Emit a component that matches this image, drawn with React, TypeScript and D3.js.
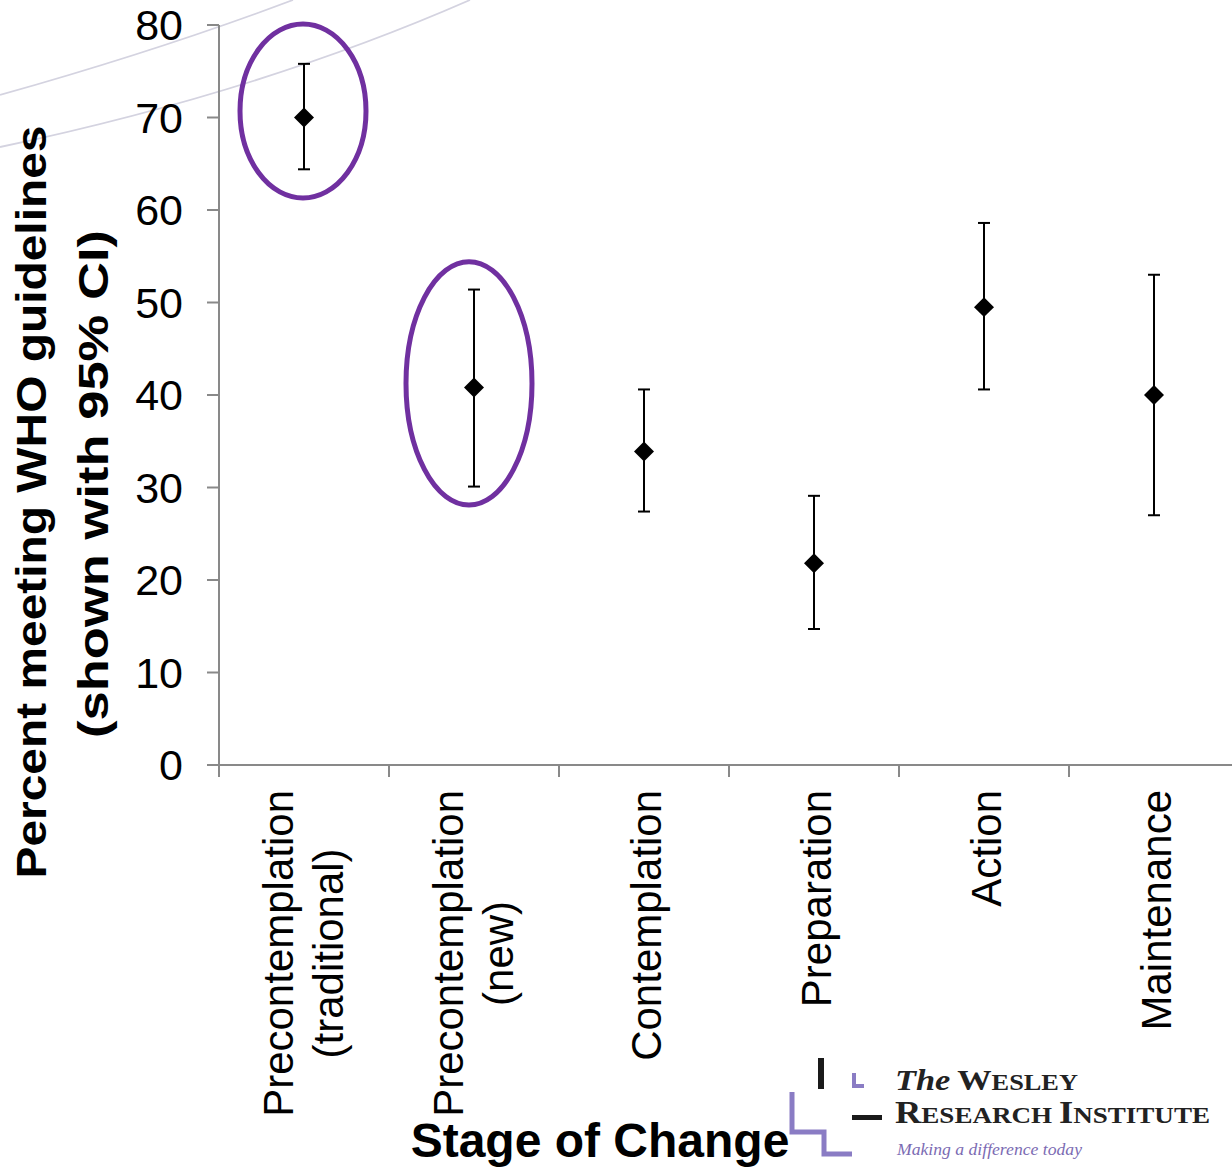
import React from "react";
import * as d3 from "d3";

// stages of change and the percent meeting WHO guidelines, with 95% CI
const stages = [
  ["Precontemplation", "(traditional)"],
  ["Precontemplation", "(new)"],
  ["Contemplation"],
  ["Preparation"],
  ["Action"],
  ["Maintenance"],
];
const means = [70.0, 40.8, 33.9, 21.8, 49.5, 40.0];
const lower = [64.4, 30.1, 27.4, 14.7, 40.6, 27.0];
const upper = [75.8, 51.4, 40.6, 29.1, 58.6, 53.0];
const yTicks = [0, 10, 20, 30, 40, 50, 60, 70, 80];

// purple rings drawn round the two precontemplation groups (y range in percent)
const ringStage = [0, 1];
const ringTop = [80.1, 54.4];
const ringBottom = [61.3, 28.1];

const W = 1232;
const H = 1170;
const font = "'Liberation Sans', Arial, sans-serif";
const serif = "'Liberation Serif', 'DejaVu Serif', serif";

// width of a label line, so that two-line labels can be centred on each other
function textWidth(s: string, size: number) {
  const ctx = document.createElement("canvas").getContext("2d");
  if (!ctx) return s.length * size * 0.5;
  ctx.font = `${size}px 'Liberation Sans', Arial, sans-serif`;
  return ctx.measureText(s).width;
}

export default function App() {
  const x = d3
    .scaleBand<number>()
    .domain(d3.range(stages.length + 1))
    .range([219, 219 + 170 * (stages.length + 1)])
    .paddingInner(0)
    .paddingOuter(0);
  const y = d3.scaleLinear().domain([0, 80]).range([765, 25]);
  const bw = x.bandwidth();
  const cx = (i: number) => (x(i) as number) + bw / 2;
  const diamond = d3.symbol().type(d3.symbolSquare).size(200)();
  const axisColor = "#898989";
  const labelTop = 790;

  return (
    <svg
      width={W}
      height={H}
      style={{ position: "absolute", left: 0, top: 0, display: "block", background: "#fff" }}
    >
      {/* faint slide background swooshes */}
      <path d="M0,95 Q160,50 293,0" fill="none" stroke="#d4d3e0" strokeWidth={1.8} />
      <path d="M0,147 Q260,92 470,0" fill="none" stroke="#d4d3e0" strokeWidth={1.8} />

      {/* y axis */}
      <line x1={219} x2={219} y1={y(80)} y2={y(0)} stroke={axisColor} strokeWidth={2} />
      {yTicks.map((t) => (
        <g key={t}>
          <line x1={207} x2={219} y1={y(t)} y2={y(t)} stroke={axisColor} strokeWidth={2} />
          <text x={183} y={y(t) + 15} textAnchor="end" fontFamily={font} fontSize={43} fill="#000">
            {t}
          </text>
        </g>
      ))}

      {/* x axis */}
      <line x1={207} x2={W} y1={y(0)} y2={y(0)} stroke={axisColor} strokeWidth={2} />
      {d3.range(stages.length + 1).map((i) => (
        <line
          key={i}
          x1={x(i) as number}
          x2={x(i) as number}
          y1={y(0)}
          y2={y(0) + 12}
          stroke={axisColor}
          strokeWidth={2}
        />
      ))}

      {/* category labels */}
      {stages.map((lines, i) => {
        const widest = d3.max(lines, (s) => textWidth(s, 42)) as number;
        return lines.map((s, j) => {
          const bx = lines.length === 1 ? cx(i) + 17 : cx(i) - 11 + j * 50;
          const single = lines.length === 1;
          const py = single ? labelTop : labelTop + widest / 2;
          return (
            <text
              key={i + "-" + j}
              transform={`translate(${bx},${py}) rotate(-90)`}
              textAnchor={single ? "end" : "middle"}
              fontFamily={font}
              fontSize={42}
              fill="#000"
            >
              {s}
            </text>
          );
        });
      })}

      {/* rings */}
      {ringStage.map((s, k) => (
        <ellipse
          key={k}
          cx={cx(s) - (k === 0 ? 1 : 5)}
          cy={(y(ringTop[k]) + y(ringBottom[k])) / 2}
          rx={63}
          ry={(y(ringBottom[k]) - y(ringTop[k])) / 2}
          fill="none"
          stroke="#7030a0"
          strokeWidth={5}
        />
      ))}

      {/* error bars and points */}
      {means.map((m, i) => (
        <g key={i}>
          <line x1={cx(i)} x2={cx(i)} y1={y(upper[i])} y2={y(lower[i])} stroke="#000" strokeWidth={2} />
          <line x1={cx(i) - 6} x2={cx(i) + 6} y1={y(upper[i])} y2={y(upper[i])} stroke="#000" strokeWidth={2} />
          <line x1={cx(i) - 6} x2={cx(i) + 6} y1={y(lower[i])} y2={y(lower[i])} stroke="#000" strokeWidth={2} />
          <path d={diamond as string} transform={`translate(${cx(i)},${y(m)}) rotate(45)`} fill="#000" />
        </g>
      ))}

      {/* axis titles */}
      <text
        transform="translate(46,502) rotate(-90)"
        textAnchor="middle"
        fontFamily={font}
        fontWeight="bold"
        fontSize={42}
        textLength={753}
        lengthAdjust="spacingAndGlyphs"
      >
        Percent meeting WHO guidelines
      </text>
      <text
        transform="translate(108,484) rotate(-90)"
        textAnchor="middle"
        fontFamily={font}
        fontWeight="bold"
        fontSize={42}
        textLength={508}
        lengthAdjust="spacingAndGlyphs"
      >
        (shown with 95% CI)
      </text>
      <text x={600} y={1157} textAnchor="middle" fontFamily={font} fontWeight="bold" fontSize={48}>
        Stage of Change
      </text>

      {/* logo */}
      <g>
        <rect x={818} y={1058} width={6} height={31} fill="#1a1a1a" />
        <path d="M854,1073 V1086 H864" fill="none" stroke="#8a7cc4" strokeWidth={4} />
        <rect x={852} y={1115} width={30} height={5} fill="#1a1a1a" />
        <path d="M792,1092 V1132 H824 V1154 H852" fill="none" stroke="#8a7cc4" strokeWidth={5} />
        <text x={895} y={1090} fontFamily={serif} fill="#222" fontSize={30} fontWeight="bold" textLength={183} lengthAdjust="spacingAndGlyphs">
          <tspan fontStyle="italic">The</tspan>
          <tspan dx={6}>W</tspan>
          <tspan fontSize={23}>ESLEY</tspan>
        </text>
        <text
          x={895}
          y={1123}
          fontFamily={serif}
          fill="#222"
          fontWeight="bold"
          fontSize={31}
          textLength={315}
          lengthAdjust="spacingAndGlyphs"
        >
          <tspan>R</tspan>
          <tspan fontSize={23}>ESEARCH </tspan>
          <tspan>I</tspan>
          <tspan fontSize={23}>NSTITUTE</tspan>
        </text>
        <text
          x={897}
          y={1155}
          fontFamily={serif}
          fontStyle="italic"
          fill="#7b6bb3"
          fontSize={17}
          textLength={185}
          lengthAdjust="spacingAndGlyphs"
        >
          Making a difference today
        </text>
      </g>
    </svg>
  );
}
